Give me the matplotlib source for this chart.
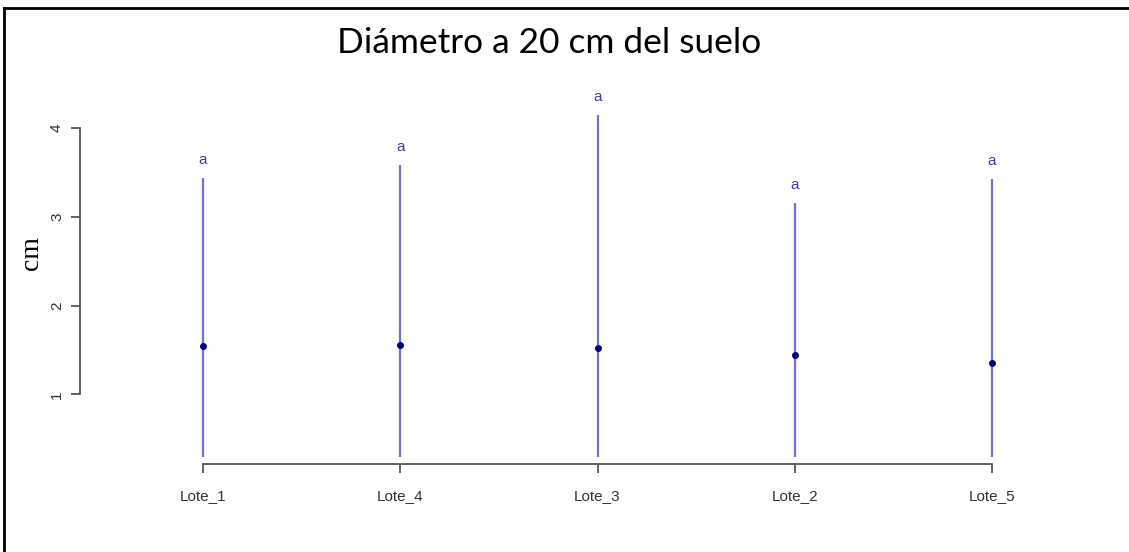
import matplotlib
matplotlib.use('Agg')
import matplotlib.pyplot as plt
from matplotlib.lines import Line2D

# datos
lotes = ['Lote_1', 'Lote_4', 'Lote_3', 'Lote_2', 'Lote_5']
medias = [1.55, 1.56, 1.52, 1.44, 1.35]
maximos = [3.44, 3.59, 4.15, 3.16, 3.43]
minimos = [0.29, 0.29, 0.29, 0.29, 0.29]
letras = ['a', 'a', 'a', 'a', 'a']
y_ticks = [1, 2, 3, 4]

fig = plt.figure(figsize=(11.29, 5.52), dpi=100)
ax = fig.add_axes([0.0709, 0.1603, 0.9035, 0.6879])

x = list(range(len(lotes)))
ax.vlines(x, minimos, maximos, color='#7272d2', linewidth=1.6)
ax.plot(x, medias, 'o', color='#000080', markersize=4)
for xi, top, txt in zip(x, maximos, letras):
    ax.annotate(txt, (xi, top), xytext=(0, 12.5), textcoords='offset points',
                ha='center', va='center', fontsize=11, color='#3c3cb4',
                family='Liberation Sans')

ax.set_xlim(-0.6236, 4.548)
ax.set_ylim(0.22, 4.5)

for s in ['top', 'right']:
    ax.spines[s].set_visible(False)
ax.spines['left'].set_bounds(1, 4)
ax.spines['bottom'].set_bounds(0, 4)
for s in ['left', 'bottom']:
    ax.spines[s].set_color('#555555')
    ax.spines[s].set_linewidth(1.3)

ax.set_xticks(x)
ax.set_xticklabels(lotes, family='Liberation Sans', fontsize=11, color='#333333')
ax.set_yticks(y_ticks)
ax.set_yticklabels([str(v) for v in y_ticks], family='Liberation Sans', fontsize=11,
                   color='#333333', rotation=90, va='center')
ax.tick_params(axis='both', length=6.5, width=1.3, color='#555555')
ax.tick_params(axis='x', pad=12)
ax.tick_params(axis='y', pad=5)

ax.set_ylabel('cm', family='Liberation Serif', fontsize=20)
ax.yaxis.set_label_coords(-0.0355, 1 - (253 - 83.8) / (463.5 - 83.8))

fig.text(549 / 1129, 1 - 43 / 552, 'Diámetro a 20 cm del suelo', family='Lato',
         fontsize=25.4, ha='center', va='center', color='black')

# marco (solo arriba e izquierda)
fig.add_artist(Line2D([4 / 1129, 4 / 1129], [0, 1 - 7.5 / 552], color='black',
                      linewidth=2, transform=fig.transFigure))
fig.add_artist(Line2D([4 / 1129, 1], [1 - 7.5 / 552, 1 - 7.5 / 552], color='black',
                      linewidth=2, transform=fig.transFigure))

fig.savefig('out.png', dpi=100, facecolor='white')
